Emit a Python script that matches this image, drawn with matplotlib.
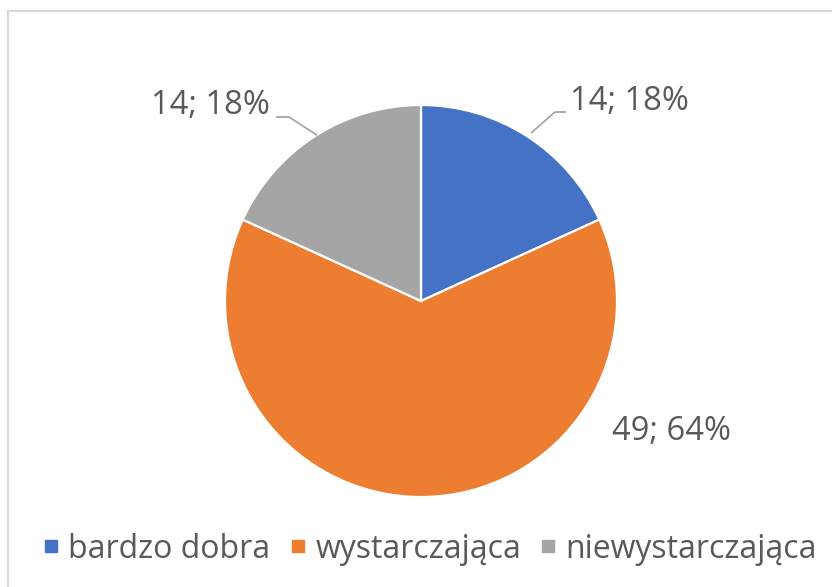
import numpy as np
import matplotlib.pyplot as plt
from matplotlib.patches import Rectangle
from matplotlib.lines import Line2D

# values
categories = ['bardzo dobra', 'wystarczająca', 'niewystarczająca']
counts = [14, 49, 14]
colors = ['#4472C4', '#ED7D31', '#A5A5A5']

text_color = '#595959'
leader_color = '#A6A6A6'

plt.rcParams['font.family'] = ['Open Sans', 'DejaVu Sans']

W, H = 832, 587
fig = plt.figure(figsize=(W / 100, H / 100), dpi=100)
# axes in pixel units (y measured upward), so the pie can be placed exactly
ax = fig.add_axes([0, 0, 1, 1])
ax.set_xlim(0, W)
ax.set_ylim(0, H)
ax.set_aspect('equal')
ax.axis('off')

cx, cy, r = 421, H - 301, 196
wedges, _ = ax.pie(counts, colors=colors, startangle=90, counterclock=False,
                   radius=r, center=(cx, cy),
                   wedgeprops=dict(edgecolor='white', linewidth=1.6))
ax.set_xlim(0, W)
ax.set_ylim(0, H)

total = sum(counts)
labels = ['%d; %d%%' % (c, round(100 * c / total)) for c in counts]

# mid angle of each wedge
mids = [(w.theta1 + w.theta2) / 2 for w in wedges]

def edge_point(ang):
    a = np.deg2rad(ang)
    return cx + r * np.cos(a), cy + r * np.sin(a)

# right label (bardzo dobra) with leader line
x0, y0 = edge_point(mids[0])
ax.plot([x0 + 4, 555, 566], [y0 + 3, H - 112, H - 112], color=leader_color, lw=1.3,
        solid_capstyle='butt')
ax.text(570, H - 102, labels[0], fontsize=23.5, color=text_color, ha='left', va='center')

# left label (niewystarczająca) with leader line
x2, y2 = edge_point(mids[2])
ax.plot([x2 + 2, 289, 276], [y2 + 1, H - 117, H - 117], color=leader_color, lw=1.3,
        solid_capstyle='butt')
ax.text(270, H - 106, labels[2], fontsize=23.5, color=text_color, ha='right', va='center')

# bottom-right label (wystarczająca)
ax.text(612, H - 432, labels[1], fontsize=23.5, color=text_color, ha='left', va='center')

# chart border (cut off at the right and bottom edges)
fig.patches.append(Rectangle((8 / W, -0.1), 1.2, 1.1 - 11 / H, transform=fig.transFigure,
                             fill=False, edgecolor='#D9D9D9', linewidth=1.6))

handles = [Line2D([], [], marker='s', linestyle='none', markersize=8.5,
                  markerfacecolor=c, markeredgecolor=c) for c in colors]
fig.legend(handles, categories, loc='center', bbox_to_anchor=(430 / W, 1 - 549 / H),
           ncol=3, frameon=False, fontsize=23, labelcolor=text_color,
           handlelength=0.5, handletextpad=0.3, columnspacing=0.6, borderpad=0)

fig.savefig('out.png', dpi=100)
